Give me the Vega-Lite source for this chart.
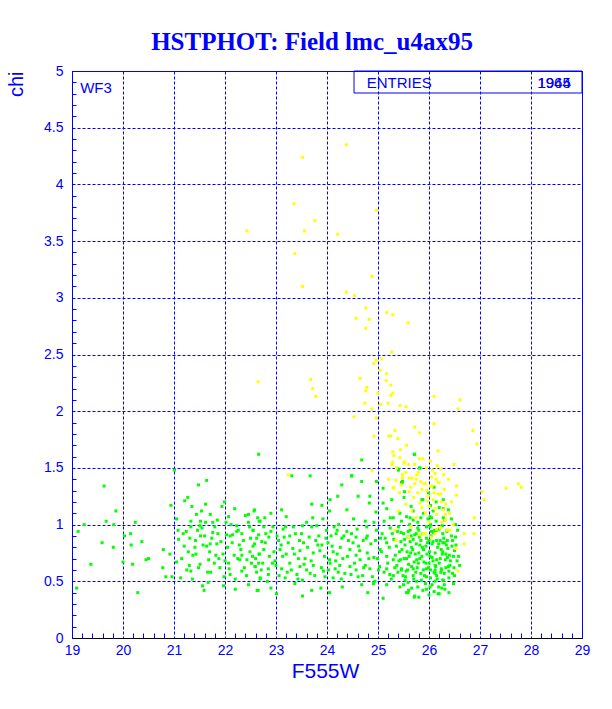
{
  "$schema": "https://vega.github.io/schema/vega-lite/v6.json",
  "width": 510,
  "height": 567,
  "autosize": {"type": "none"},
  "padding": {"left": 72, "top": 71, "right": 30, "bottom": 71},
  "background": "white",
  "title": {"text": "HSTPHOT: Field lmc_u4ax95", "font": "Liberation Serif", "fontSize": 25, "fontWeight": "bold", "color": "#0000ff", "anchor": "middle", "baseline": "alphabetic", "offset": 19, "dx": -15, "dy": 30},
  "config": {"view": {"stroke": "#0000ff", "strokeWidth": 1}},
  "datasets": {
    "box": [{"x1": 24.53, "x2": 29, "y1": 4.806, "y2": 5}],
    "txt": [
      {"x": 19.16, "y": 4.85, "t": "WF3", "a": "left"},
      {"x": 24.78, "y": 4.89, "t": "ENTRIES", "a": "left"},
      {"x": 28.78, "y": 4.89, "t": "1944", "a": "right"},
      {"x": 28.78, "y": 4.89, "t": "1965", "a": "right"}
    ],
    "pts": [
      {"m":21.01,"chi":1.48,"s":"g"},{"m":19.63,"chi":1.34,"s":"g"},{"m":21.48,"chi":1.35,"s":"g"},{"m":21.64,"chi":1.39,"s":"g"},{"m":19.86,"chi":1.12,"s":"g"},{"m":19.67,"chi":1.03,"s":"g"},{"m":19.82,"chi":1.0,"s":"g"},{"m":19.24,"chi":1.0,"s":"g"},{"m":19.12,"chi":0.94,"s":"g"},{"m":20.24,"chi":1.02,"s":"g"},{"m":20.03,"chi":0.9,"s":"g"},{"m":20.15,"chi":0.92,"s":"g"},{"m":20.37,"chi":0.85,"s":"g"},{"m":19.59,"chi":0.84,"s":"g"},{"m":19.81,"chi":0.8,"s":"g"},{"m":20.16,"chi":0.82,"s":"g"},{"m":19.37,"chi":0.65,"s":"g"},{"m":20.0,"chi":0.67,"s":"g"},{"m":20.19,"chi":0.65,"s":"g"},{"m":20.45,"chi":0.69,"s":"g"},{"m":20.5,"chi":0.7,"s":"g"},{"m":19.09,"chi":0.44,"s":"g"},{"m":20.29,"chi":0.4,"s":"g"},{"m":21.21,"chi":1.21,"s":"g"},{"m":21.27,"chi":1.24,"s":"g"},{"m":21.62,"chi":1.18,"s":"g"},{"m":20.94,"chi":1.17,"s":"g"},{"m":21.35,"chi":1.16,"s":"g"},{"m":21.44,"chi":1.09,"s":"g"},{"m":21.54,"chi":1.12,"s":"g"},{"m":21.71,"chi":1.09,"s":"g"},{"m":21.94,"chi":1.16,"s":"g"},{"m":21.99,"chi":1.2,"s":"g"},{"m":22.19,"chi":1.14,"s":"g"},{"m":22.46,"chi":1.09,"s":"g"},{"m":22.57,"chi":1.12,"s":"g"},{"m":22.07,"chi":1.07,"s":"g"},{"m":21.85,"chi":1.04,"s":"g"},{"m":21.52,"chi":1.03,"s":"g"},{"m":21.33,"chi":1.03,"s":"g"},{"m":21.62,"chi":1.02,"s":"g"},{"m":21.76,"chi":1.02,"s":"g"},{"m":22.23,"chi":0.99,"s":"g"},{"m":22.46,"chi":1.02,"s":"g"},{"m":22.67,"chi":1.03,"s":"g"},{"m":21.08,"chi":0.95,"s":"g"},{"m":21.24,"chi":0.94,"s":"g"},{"m":21.33,"chi":0.98,"s":"g"},{"m":21.51,"chi":0.99,"s":"g"},{"m":21.76,"chi":0.93,"s":"g"},{"m":21.86,"chi":0.92,"s":"g"},{"m":22.03,"chi":0.91,"s":"g"},{"m":22.1,"chi":0.9,"s":"g"},{"m":22.15,"chi":0.91,"s":"g"},{"m":22.23,"chi":0.94,"s":"g"},{"m":22.33,"chi":0.92,"s":"g"},{"m":22.55,"chi":0.95,"s":"g"},{"m":22.66,"chi":0.91,"s":"g"},{"m":21.09,"chi":0.87,"s":"g"},{"m":21.31,"chi":0.88,"s":"g"},{"m":21.52,"chi":0.9,"s":"g"},{"m":21.6,"chi":0.9,"s":"g"},{"m":21.71,"chi":0.83,"s":"g"},{"m":21.57,"chi":0.82,"s":"g"},{"m":21.64,"chi":0.81,"s":"g"},{"m":21.84,"chi":0.83,"s":"g"},{"m":21.2,"chi":0.81,"s":"g"},{"m":21.41,"chi":0.8,"s":"g"},{"m":21.43,"chi":0.74,"s":"g"},{"m":21.37,"chi":0.73,"s":"g"},{"m":21.82,"chi":0.73,"s":"g"},{"m":20.92,"chi":0.74,"s":"g"},{"m":20.79,"chi":0.78,"s":"g"},{"m":21.05,"chi":0.67,"s":"g"},{"m":21.3,"chi":0.64,"s":"g"},{"m":21.51,"chi":0.65,"s":"g"},{"m":21.68,"chi":0.69,"s":"g"},{"m":21.88,"chi":0.7,"s":"g"},{"m":22.0,"chi":0.68,"s":"g"},{"m":22.07,"chi":0.66,"s":"g"},{"m":22.18,"chi":0.73,"s":"g"},{"m":22.25,"chi":0.7,"s":"g"},{"m":22.29,"chi":0.69,"s":"g"},{"m":22.33,"chi":0.73,"s":"g"},{"m":22.43,"chi":0.69,"s":"g"},{"m":22.49,"chi":0.76,"s":"g"},{"m":22.54,"chi":0.72,"s":"g"},{"m":22.59,"chi":0.63,"s":"g"},{"m":22.66,"chi":0.66,"s":"g"},{"m":22.67,"chi":0.74,"s":"g"},{"m":20.78,"chi":0.62,"s":"g"},{"m":20.84,"chi":0.54,"s":"g"},{"m":20.96,"chi":0.54,"s":"g"},{"m":21.13,"chi":0.53,"s":"g"},{"m":21.33,"chi":0.59,"s":"g"},{"m":21.72,"chi":0.58,"s":"g"},{"m":22.1,"chi":0.56,"s":"g"},{"m":22.33,"chi":0.59,"s":"g"},{"m":22.62,"chi":0.58,"s":"g"},{"m":22.69,"chi":0.52,"s":"g"},{"m":21.98,"chi":0.54,"s":"g"},{"m":21.97,"chi":0.46,"s":"g"},{"m":21.56,"chi":0.46,"s":"g"},{"m":21.59,"chi":0.42,"s":"g"},{"m":21.67,"chi":0.49,"s":"g"},{"m":22.46,"chi":0.47,"s":"g"},{"m":22.65,"chi":0.42,"s":"g"},
      {"m":22.66,"chi":1.62,"s":"g"},{"m":24.68,"chi":1.57,"s":"g"},{"m":23.67,"chi":1.43,"s":"g"},{"m":23.31,"chi":1.43,"s":"g"},{"m":24.48,"chi":1.43,"s":"g"},{"m":25.4,"chi":1.48,"s":"g"},{"m":25.71,"chi":1.62,"s":"g"},{"m":25.46,"chi":1.37,"s":"g"},{"m":25.82,"chi":1.5,"s":"g"},{"m":24.29,"chi":1.35,"s":"g"},{"m":24.68,"chi":1.38,"s":"g"},{"m":24.97,"chi":1.38,"s":"g"},{"m":25.1,"chi":1.32,"s":"g"},{"m":24.21,"chi":1.25,"s":"g"},{"m":24.06,"chi":1.22,"s":"g"},{"m":24.61,"chi":1.25,"s":"g"},{"m":24.84,"chi":1.25,"s":"g"},{"m":25.27,"chi":1.22,"s":"g"},{"m":25.51,"chi":1.24,"s":"g"},{"m":25.86,"chi":1.22,"s":"g"},{"m":23.7,"chi":1.18,"s":"g"},{"m":23.9,"chi":1.17,"s":"g"},{"m":24.83,"chi":1.19,"s":"g"},{"m":25.1,"chi":1.19,"s":"g"},{"m":26.28,"chi":1.22,"s":"g"},{"m":22.58,"chi":1.13,"s":"g"},{"m":22.9,"chi":1.1,"s":"g"},{"m":23.11,"chi":1.13,"s":"g"},{"m":24.05,"chi":1.12,"s":"g"},{"m":24.39,"chi":1.13,"s":"g"},{"m":24.96,"chi":1.11,"s":"g"},{"m":25.17,"chi":1.14,"s":"g"},{"m":25.56,"chi":1.07,"s":"g"},{"m":25.69,"chi":1.04,"s":"g"},{"m":25.89,"chi":1.1,"s":"g"},{"m":26.05,"chi":1.06,"s":"g"},{"m":26.28,"chi":1.06,"s":"g"},{"m":22.78,"chi":1.06,"s":"g"},{"m":22.69,"chi":1.03,"s":"g"},{"m":23.2,"chi":1.07,"s":"g"},{"m":23.72,"chi":1.06,"s":"g"},{"m":23.92,"chi":1.05,"s":"g"},{"m":24.52,"chi":1.05,"s":"g"},{"m":24.75,"chi":1.03,"s":"g"},{"m":24.92,"chi":1.02,"s":"g"},{"m":25.12,"chi":1.03,"s":"g"},{"m":25.24,"chi":1.06,"s":"g"},{"m":25.3,"chi":1.06,"s":"g"},{"m":25.46,"chi":1.03,"s":"g"},{"m":22.55,"chi":0.95,"s":"g"},{"m":22.76,"chi":0.98,"s":"g"},{"m":22.94,"chi":0.98,"s":"g"},{"m":23.14,"chi":0.96,"s":"g"},{"m":23.34,"chi":0.98,"s":"g"},{"m":23.52,"chi":0.99,"s":"g"},{"m":23.7,"chi":0.98,"s":"g"},{"m":23.8,"chi":0.99,"s":"g"},{"m":23.99,"chi":0.95,"s":"g"},{"m":24.2,"chi":0.95,"s":"g"},{"m":24.39,"chi":0.94,"s":"g"},{"m":24.78,"chi":0.98,"s":"g"},{"m":24.97,"chi":0.95,"s":"g"},{"m":25.24,"chi":0.97,"s":"g"},{"m":25.38,"chi":0.94,"s":"g"},{"m":25.63,"chi":0.95,"s":"g"},{"m":25.75,"chi":0.92,"s":"g"},{"m":26.02,"chi":0.98,"s":"g"},{"m":26.05,"chi":0.94,"s":"g"},{"m":26.15,"chi":0.95,"s":"g"},{"m":26.35,"chi":0.94,"s":"g"},{"m":22.62,"chi":0.88,"s":"g"},{"m":22.72,"chi":0.85,"s":"g"},{"m":22.86,"chi":0.89,"s":"g"},{"m":23.05,"chi":0.86,"s":"g"},{"m":23.16,"chi":0.89,"s":"g"},{"m":23.27,"chi":0.9,"s":"g"},{"m":23.46,"chi":0.86,"s":"g"},{"m":23.54,"chi":0.84,"s":"g"},{"m":23.65,"chi":0.89,"s":"g"},{"m":23.78,"chi":0.86,"s":"g"},{"m":23.9,"chi":0.82,"s":"g"},{"m":24.08,"chi":0.9,"s":"g"},{"m":24.18,"chi":0.92,"s":"g"},{"m":24.29,"chi":0.88,"s":"g"},{"m":24.42,"chi":0.86,"s":"g"},{"m":24.57,"chi":0.89,"s":"g"},{"m":24.71,"chi":0.86,"s":"g"},{"m":24.79,"chi":0.9,"s":"g"},{"m":25.05,"chi":0.88,"s":"g"},{"m":25.17,"chi":0.84,"s":"g"},{"m":25.31,"chi":0.87,"s":"g"},{"m":25.45,"chi":0.85,"s":"g"},{"m":25.59,"chi":0.89,"s":"g"},{"m":25.69,"chi":0.87,"s":"g"},{"m":25.82,"chi":0.82,"s":"g"},{"m":25.95,"chi":0.88,"s":"g"},{"m":26.08,"chi":0.85,"s":"g"},{"m":26.22,"chi":0.86,"s":"g"},{"m":26.31,"chi":0.84,"s":"g"},{"m":22.55,"chi":0.81,"s":"g"},{"m":22.67,"chi":0.74,"s":"g"},{"m":22.76,"chi":0.78,"s":"g"},{"m":22.87,"chi":0.72,"s":"g"},{"m":22.96,"chi":0.76,"s":"g"},{"m":23.08,"chi":0.78,"s":"g"},{"m":23.2,"chi":0.74,"s":"g"},{"m":23.33,"chi":0.79,"s":"g"},{"m":23.47,"chi":0.77,"s":"g"},{"m":23.57,"chi":0.7,"s":"g"},{"m":23.73,"chi":0.75,"s":"g"},{"m":23.86,"chi":0.77,"s":"g"},{"m":24.05,"chi":0.69,"s":"g"},{"m":24.12,"chi":0.76,"s":"g"},{"m":24.2,"chi":0.74,"s":"g"},{"m":24.31,"chi":0.7,"s":"g"},{"m":24.45,"chi":0.78,"s":"g"},{"m":24.57,"chi":0.73,"s":"g"},{"m":24.65,"chi":0.69,"s":"g"},{"m":24.79,"chi":0.75,"s":"g"},{"m":24.92,"chi":0.71,"s":"g"},{"m":25.04,"chi":0.78,"s":"g"},{"m":25.17,"chi":0.72,"s":"g"},{"m":25.3,"chi":0.69,"s":"g"},{"m":25.42,"chi":0.76,"s":"g"},{"m":25.51,"chi":0.7,"s":"g"},{"m":25.64,"chi":0.75,"s":"g"},{"m":25.76,"chi":0.69,"s":"g"},{"m":25.89,"chi":0.78,"s":"g"},{"m":26.02,"chi":0.72,"s":"g"},{"m":26.15,"chi":0.69,"s":"g"},{"m":26.27,"chi":0.76,"s":"g"},{"m":26.36,"chi":0.71,"s":"g"},{"m":22.59,"chi":0.63,"s":"g"},{"m":22.74,"chi":0.66,"s":"g"},{"m":22.85,"chi":0.61,"s":"g"},{"m":23.0,"chi":0.64,"s":"g"},{"m":23.11,"chi":0.61,"s":"g"},{"m":23.27,"chi":0.66,"s":"g"},{"m":23.47,"chi":0.63,"s":"g"},{"m":23.6,"chi":0.6,"s":"g"},{"m":23.73,"chi":0.64,"s":"g"},{"m":23.89,"chi":0.62,"s":"g"},{"m":24.06,"chi":0.66,"s":"g"},{"m":24.16,"chi":0.61,"s":"g"},{"m":24.25,"chi":0.64,"s":"g"},{"m":24.45,"chi":0.63,"s":"g"},{"m":24.57,"chi":0.6,"s":"g"},{"m":24.75,"chi":0.64,"s":"g"},{"m":24.84,"chi":0.61,"s":"g"},{"m":25.03,"chi":0.63,"s":"g"},{"m":25.17,"chi":0.61,"s":"g"},{"m":25.37,"chi":0.64,"s":"g"},{"m":25.46,"chi":0.6,"s":"g"},{"m":25.66,"chi":0.63,"s":"g"},{"m":25.79,"chi":0.66,"s":"g"},{"m":25.95,"chi":0.61,"s":"g"},{"m":26.12,"chi":0.64,"s":"g"},{"m":26.25,"chi":0.6,"s":"g"},{"m":26.38,"chi":0.63,"s":"g"},{"m":22.69,"chi":0.53,"s":"g"},{"m":22.85,"chi":0.56,"s":"g"},{"m":23.18,"chi":0.53,"s":"g"},{"m":23.41,"chi":0.56,"s":"g"},{"m":23.52,"chi":0.51,"s":"g"},{"m":23.67,"chi":0.57,"s":"g"},{"m":23.96,"chi":0.54,"s":"g"},{"m":24.12,"chi":0.53,"s":"g"},{"m":24.22,"chi":0.58,"s":"g"},{"m":24.61,"chi":0.54,"s":"g"},{"m":24.68,"chi":0.47,"s":"g"},{"m":24.94,"chi":0.5,"s":"g"},{"m":25.17,"chi":0.47,"s":"g"},{"m":25.3,"chi":0.55,"s":"g"},{"m":25.53,"chi":0.51,"s":"g"},{"m":25.76,"chi":0.5,"s":"g"},{"m":25.95,"chi":0.54,"s":"g"},{"m":26.12,"chi":0.57,"s":"g"},{"m":26.28,"chi":0.51,"s":"g"},{"m":22.63,"chi":0.42,"s":"g"},{"m":23.01,"chi":0.39,"s":"g"},{"m":23.37,"chi":0.48,"s":"g"},{"m":23.52,"chi":0.37,"s":"g"},{"m":23.88,"chi":0.44,"s":"g"},{"m":24.05,"chi":0.4,"s":"g"},{"m":24.91,"chi":0.48,"s":"g"},{"m":25.1,"chi":0.35,"s":"g"},{"m":25.43,"chi":0.45,"s":"g"},{"m":25.59,"chi":0.4,"s":"g"},{"m":25.71,"chi":0.36,"s":"g"},{"m":26.02,"chi":0.45,"s":"g"},{"m":26.18,"chi":0.39,"s":"g"},
      {"m":25.72,"chi":1.62,"s":"g"},{"m":25.82,"chi":1.5,"s":"g"},{"m":25.48,"chi":1.38,"s":"g"},{"m":25.99,"chi":1.28,"s":"g"},{"m":25.52,"chi":1.29,"s":"g"},{"m":25.88,"chi":1.22,"s":"g"},{"m":26.14,"chi":1.2,"s":"g"},{"m":25.65,"chi":1.16,"s":"g"},{"m":26.03,"chi":1.17,"s":"g"},{"m":26.28,"chi":1.14,"s":"g"},{"m":25.43,"chi":1.1,"s":"g"},{"m":25.69,"chi":1.12,"s":"g"},{"m":25.84,"chi":1.06,"s":"g"},{"m":26.02,"chi":1.07,"s":"g"},{"m":26.14,"chi":1.03,"s":"g"},{"m":26.31,"chi":1.04,"s":"g"},{"m":25.63,"chi":1.06,"s":"g"},{"m":25.5,"chi":0.92,"s":"g"},{"m":25.59,"chi":0.94,"s":"g"},{"m":25.72,"chi":0.91,"s":"g"},{"m":25.81,"chi":0.89,"s":"g"},{"m":25.88,"chi":0.92,"s":"g"},{"m":25.95,"chi":0.98,"s":"g"},{"m":26.03,"chi":1.0,"s":"g"},{"m":26.11,"chi":0.95,"s":"g"},{"m":26.2,"chi":0.96,"s":"g"},{"m":26.27,"chi":0.92,"s":"g"},{"m":26.35,"chi":0.95,"s":"g"},{"m":26.52,"chi":0.89,"s":"g"},{"m":25.52,"chi":0.87,"s":"g"},{"m":25.63,"chi":0.85,"s":"g"},{"m":25.75,"chi":0.83,"s":"g"},{"m":25.84,"chi":0.86,"s":"g"},{"m":25.94,"chi":0.81,"s":"g"},{"m":26.06,"chi":0.83,"s":"g"},{"m":26.15,"chi":0.86,"s":"g"},{"m":26.27,"chi":0.84,"s":"g"},{"m":26.36,"chi":0.86,"s":"g"},{"m":26.45,"chi":0.81,"s":"g"},{"m":25.47,"chi":0.78,"s":"g"},{"m":25.57,"chi":0.76,"s":"g"},{"m":25.68,"chi":0.78,"s":"g"},{"m":25.8,"chi":0.75,"s":"g"},{"m":25.89,"chi":0.78,"s":"g"},{"m":26.01,"chi":0.76,"s":"g"},{"m":26.12,"chi":0.75,"s":"g"},{"m":26.24,"chi":0.78,"s":"g"},{"m":26.33,"chi":0.74,"s":"g"},{"m":26.48,"chi":0.72,"s":"g"},{"m":25.44,"chi":0.69,"s":"g"},{"m":25.56,"chi":0.7,"s":"g"},{"m":25.71,"chi":0.67,"s":"g"},{"m":25.82,"chi":0.7,"s":"g"},{"m":25.94,"chi":0.66,"s":"g"},{"m":26.08,"chi":0.68,"s":"g"},{"m":26.2,"chi":0.66,"s":"g"},{"m":26.32,"chi":0.69,"s":"g"},{"m":26.41,"chi":0.64,"s":"g"},{"m":26.49,"chi":0.62,"s":"g"},{"m":25.46,"chi":0.61,"s":"g"},{"m":25.55,"chi":0.59,"s":"g"},{"m":25.69,"chi":0.61,"s":"g"},{"m":25.89,"chi":0.6,"s":"g"},{"m":25.99,"chi":0.62,"s":"g"},{"m":26.12,"chi":0.6,"s":"g"},{"m":26.24,"chi":0.61,"s":"g"},{"m":26.39,"chi":0.59,"s":"g"},{"m":25.54,"chi":0.54,"s":"g"},{"m":25.69,"chi":0.55,"s":"g"},{"m":25.85,"chi":0.51,"s":"g"},{"m":26.03,"chi":0.53,"s":"g"},{"m":26.15,"chi":0.55,"s":"g"},{"m":26.27,"chi":0.51,"s":"g"},{"m":26.39,"chi":0.53,"s":"g"},{"m":25.59,"chi":0.49,"s":"g"},{"m":25.78,"chi":0.45,"s":"g"},{"m":26.06,"chi":0.47,"s":"g"},{"m":26.19,"chi":0.45,"s":"g"},{"m":26.48,"chi":0.48,"s":"g"},{"m":25.56,"chi":0.4,"s":"g"},{"m":25.72,"chi":0.37,"s":"g"},{"m":25.8,"chi":0.36,"s":"g"},{"m":26.2,"chi":0.39,"s":"g"},{"m":26.39,"chi":0.4,"s":"g"},{"m":26.31,"chi":0.43,"s":"g"},{"m":25.4,"chi":1.49,"s":"g"},{"m":25.47,"chi":1.37,"s":"g"},{"m":26.1,"chi":1.33,"s":"g"},{"m":24.49,"chi":1.43,"s":"g"},
      {"m":22.6,"chi":0.7,"s":"g"},{"m":22.8,"chi":0.92,"s":"g"},{"m":22.98,"chi":0.68,"s":"g"},{"m":23.1,"chi":0.82,"s":"g"},{"m":23.22,"chi":0.58,"s":"g"},{"m":23.38,"chi":0.92,"s":"g"},{"m":23.44,"chi":0.7,"s":"g"},{"m":23.62,"chi":0.8,"s":"g"},{"m":23.84,"chi":0.9,"s":"g"},{"m":23.95,"chi":0.72,"s":"g"},{"m":24.02,"chi":0.84,"s":"g"},{"m":24.14,"chi":0.98,"s":"g"},{"m":24.26,"chi":0.8,"s":"g"},{"m":24.35,"chi":0.57,"s":"g"},{"m":24.48,"chi":0.92,"s":"g"},{"m":24.54,"chi":0.66,"s":"g"},{"m":24.62,"chi":0.81,"s":"g"},{"m":24.7,"chi":0.55,"s":"g"},{"m":24.86,"chi":0.83,"s":"g"},{"m":24.99,"chi":0.7,"s":"g"},{"m":25.08,"chi":0.92,"s":"g"},{"m":25.12,"chi":0.58,"s":"g"},{"m":25.22,"chi":0.8,"s":"g"},{"m":25.26,"chi":0.52,"s":"g"},{"m":25.34,"chi":0.73,"s":"g"},{"m":25.4,"chi":0.98,"s":"g"},{"m":25.39,"chi":0.58,"s":"g"},{"m":25.6,"chi":0.65,"s":"g"},{"m":25.66,"chi":0.8,"s":"g"},{"m":25.74,"chi":0.58,"s":"g"},{"m":25.78,"chi":0.97,"s":"g"},{"m":25.86,"chi":0.72,"s":"g"},{"m":25.91,"chi":0.55,"s":"g"},{"m":25.97,"chi":0.84,"s":"g"},{"m":26.0,"chi":0.66,"s":"g"},{"m":26.04,"chi":0.9,"s":"g"},{"m":26.1,"chi":0.58,"s":"g"},{"m":26.17,"chi":0.8,"s":"g"},{"m":26.22,"chi":0.7,"s":"g"},{"m":26.26,"chi":0.99,"s":"g"},{"m":26.3,"chi":0.57,"s":"g"},{"m":26.34,"chi":0.82,"s":"g"},{"m":26.4,"chi":0.73,"s":"g"},{"m":26.44,"chi":0.9,"s":"g"},{"m":26.46,"chi":0.57,"s":"g"},{"m":26.5,"chi":0.77,"s":"g"},{"m":26.55,"chi":0.68,"s":"g"},{"m":26.52,"chi":1.0,"s":"g"},{"m":26.44,"chi":1.05,"s":"g"},{"m":26.38,"chi":1.13,"s":"g"},{"m":26.2,"chi":1.15,"s":"g"},{"m":26.08,"chi":1.12,"s":"g"},{"m":25.98,"chi":1.05,"s":"g"},{"m":25.62,"chi":1.0,"s":"g"},{"m":25.78,"chi":1.02,"s":"g"},{"m":26.12,"chi":0.5,"s":"g"},{"m":25.88,"chi":0.42,"s":"g"},{"m":26.0,"chi":0.38,"s":"g"},{"m":25.66,"chi":0.44,"s":"g"},{"m":26.3,"chi":0.47,"s":"g"},{"m":25.5,"chi":0.47,"s":"g"},{"m":21.15,"chi":0.7,"s":"g"},{"m":21.25,"chi":0.6,"s":"g"},{"m":21.46,"chi":0.95,"s":"g"},{"m":21.7,"chi":0.76,"s":"g"},{"m":21.9,"chi":0.62,"s":"g"},{"m":22.05,"chi":0.8,"s":"g"},{"m":22.12,"chi":1.0,"s":"g"},{"m":22.28,"chi":0.82,"s":"g"},{"m":22.38,"chi":0.62,"s":"g"},{"m":22.5,"chi":0.88,"s":"g"},{"m":21.8,"chi":0.98,"s":"g"},{"m":22.4,"chi":1.08,"s":"g"},
      {"m":21.05,"chi":1.05,"s":"g"},{"m":21.18,"chi":0.92,"s":"g"},{"m":21.28,"chi":0.76,"s":"g"},{"m":21.36,"chi":0.52,"s":"g"},{"m":21.42,"chi":0.86,"s":"g"},{"m":21.48,"chi":0.62,"s":"g"},{"m":21.55,"chi":0.97,"s":"g"},{"m":21.66,"chi":0.58,"s":"g"},{"m":21.74,"chi":0.88,"s":"g"},{"m":21.79,"chi":0.66,"s":"g"},{"m":21.92,"chi":0.85,"s":"g"},{"m":21.96,"chi":0.74,"s":"g"},{"m":22.02,"chi":1.02,"s":"g"},{"m":22.08,"chi":0.61,"s":"g"},{"m":22.14,"chi":0.84,"s":"g"},{"m":22.2,"chi":0.52,"s":"g"},{"m":22.26,"chi":0.95,"s":"g"},{"m":22.31,"chi":0.78,"s":"g"},{"m":22.36,"chi":0.86,"s":"g"},{"m":22.42,"chi":0.55,"s":"g"},{"m":22.48,"chi":0.98,"s":"g"},{"m":22.52,"chi":0.66,"s":"g"},{"m":22.58,"chi":0.83,"s":"g"},{"m":22.64,"chi":1.06,"s":"g"},{"m":22.71,"chi":0.6,"s":"g"},{"m":22.79,"chi":0.84,"s":"g"},{"m":22.83,"chi":0.5,"s":"g"},{"m":22.9,"chi":0.94,"s":"g"},{"m":22.93,"chi":0.66,"s":"g"},{"m":23.02,"chi":0.9,"s":"g"},{"m":23.06,"chi":0.55,"s":"g"},{"m":23.13,"chi":0.72,"s":"g"},{"m":23.19,"chi":0.98,"s":"g"},{"m":23.24,"chi":0.84,"s":"g"},{"m":23.3,"chi":0.6,"s":"g"},{"m":23.36,"chi":0.74,"s":"g"},{"m":23.43,"chi":0.52,"s":"g"},{"m":23.5,"chi":0.92,"s":"g"},{"m":23.55,"chi":0.65,"s":"g"},{"m":23.6,"chi":1.02,"s":"g"},{"m":23.69,"chi":0.68,"s":"g"},{"m":23.76,"chi":0.55,"s":"g"},{"m":23.82,"chi":0.82,"s":"g"},{"m":23.93,"chi":0.59,"s":"g"},{"m":23.98,"chi":0.88,"s":"g"},{"m":24.03,"chi":0.6,"s":"g"},{"m":24.1,"chi":0.81,"s":"g"},{"m":24.17,"chi":0.68,"s":"g"},{"m":24.23,"chi":1.0,"s":"g"},{"m":24.28,"chi":0.52,"s":"g"},{"m":24.33,"chi":0.9,"s":"g"},{"m":24.4,"chi":0.72,"s":"g"},{"m":24.47,"chi":0.56,"s":"g"},{"m":24.51,"chi":0.84,"s":"g"},{"m":24.59,"chi":0.96,"s":"g"},{"m":24.64,"chi":0.77,"s":"g"},{"m":24.72,"chi":0.62,"s":"g"},{"m":24.77,"chi":0.88,"s":"g"},{"m":24.82,"chi":0.7,"s":"g"},{"m":24.89,"chi":0.54,"s":"g"},{"m":24.95,"chi":0.86,"s":"g"},{"m":25.01,"chi":0.6,"s":"g"},{"m":25.07,"chi":0.76,"s":"g"},{"m":25.14,"chi":0.88,"s":"g"},{"m":25.19,"chi":0.66,"s":"g"},{"m":25.23,"chi":0.56,"s":"g"},{"m":25.28,"chi":0.92,"s":"g"},{"m":25.33,"chi":0.62,"s":"g"},{"m":25.36,"chi":0.81,"s":"g"},{"m":25.41,"chi":0.68,"s":"g"},{"m":25.45,"chi":0.93,"s":"g"},{"m":25.49,"chi":0.55,"s":"g"},{"m":25.53,"chi":0.82,"s":"g"},{"m":25.58,"chi":0.6,"s":"g"},{"m":25.61,"chi":0.72,"s":"g"},{"m":25.65,"chi":0.9,"s":"g"},{"m":25.7,"chi":0.52,"s":"g"},{"m":25.73,"chi":0.74,"s":"g"},{"m":25.77,"chi":0.62,"s":"g"},{"m":25.8,"chi":0.95,"s":"g"},{"m":25.84,"chi":0.57,"s":"g"},{"m":25.87,"chi":0.8,"s":"g"},{"m":25.9,"chi":0.67,"s":"g"},{"m":25.93,"chi":0.48,"s":"g"},{"m":25.96,"chi":0.74,"s":"g"},{"m":26.0,"chi":0.86,"s":"g"},{"m":26.03,"chi":0.6,"s":"g"},{"m":26.06,"chi":0.71,"s":"g"},{"m":26.09,"chi":0.93,"s":"g"},{"m":26.13,"chi":0.63,"s":"g"},{"m":26.16,"chi":0.52,"s":"g"},{"m":26.19,"chi":0.83,"s":"g"},{"m":26.23,"chi":0.58,"s":"g"},{"m":26.26,"chi":0.74,"s":"g"},{"m":26.29,"chi":0.88,"s":"g"},{"m":26.33,"chi":0.62,"s":"g"},{"m":26.37,"chi":0.79,"s":"g"},{"m":26.42,"chi":0.68,"s":"g"},{"m":26.46,"chi":0.86,"s":"g"},{"m":26.5,"chi":0.55,"s":"g"},{"m":26.53,"chi":0.82,"s":"g"},{"m":26.58,"chi":0.72,"s":"g"},{"m":26.56,"chi":0.95,"s":"g"},{"m":26.6,"chi":0.64,"s":"g"},{"m":25.95,"chi":0.43,"s":"g"},{"m":26.1,"chi":0.41,"s":"g"},{"m":26.25,"chi":0.44,"s":"g"},{"m":25.6,"chi":0.42,"s":"g"},{"m":24.8,"chi":0.4,"s":"g"},{"m":24.3,"chi":0.45,"s":"g"},{"m":23.7,"chi":0.42,"s":"g"},{"m":22.9,"chi":0.44,"s":"g"},{"m":22.2,"chi":0.43,"s":"g"},
      {"m":24.38,"chi":4.35,"s":"y"},{"m":23.52,"chi":4.24,"s":"y"},{"m":23.35,"chi":3.83,"s":"y"},{"m":24.97,"chi":3.77,"s":"y"},{"m":23.76,"chi":3.68,"s":"y"},{"m":22.43,"chi":3.59,"s":"y"},{"m":23.56,"chi":3.59,"s":"y"},{"m":24.21,"chi":3.56,"s":"y"},{"m":23.37,"chi":3.39,"s":"y"},{"m":24.88,"chi":3.19,"s":"y"},{"m":23.52,"chi":3.1,"s":"y"},{"m":24.38,"chi":3.05,"s":"y"},{"m":24.54,"chi":3.02,"s":"y"},{"m":24.76,"chi":2.91,"s":"y"},{"m":25.17,"chi":2.87,"s":"y"},{"m":25.29,"chi":2.85,"s":"y"},{"m":24.57,"chi":2.82,"s":"y"},{"m":24.83,"chi":2.81,"s":"y"},{"m":25.59,"chi":2.78,"s":"y"},{"m":24.76,"chi":2.73,"s":"y"},{"m":25.27,"chi":2.52,"s":"y"},{"m":25.07,"chi":2.46,"s":"y"},{"m":24.96,"chi":2.45,"s":"y"},{"m":24.92,"chi":2.42,"s":"y"},{"m":25.04,"chi":2.36,"s":"y"},{"m":25.17,"chi":2.33,"s":"y"},{"m":24.65,"chi":2.29,"s":"y"},{"m":25.16,"chi":2.27,"s":"y"},{"m":24.78,"chi":2.21,"s":"y"},{"m":25.25,"chi":2.23,"s":"y"},{"m":24.76,"chi":2.18,"s":"y"},{"m":25.29,"chi":2.16,"s":"y"},{"m":25.25,"chi":2.14,"s":"y"},{"m":26.1,"chi":2.13,"s":"y"},{"m":25.0,"chi":2.16,"s":"y"},{"m":26.61,"chi":2.1,"s":"y"},{"m":24.74,"chi":2.07,"s":"y"},{"m":25.2,"chi":2.07,"s":"y"},{"m":25.05,"chi":2.06,"s":"y"},{"m":25.43,"chi":2.05,"s":"y"},{"m":25.55,"chi":2.04,"s":"y"},{"m":24.88,"chi":2.02,"s":"y"},{"m":26.57,"chi":2.02,"s":"y"},{"m":24.53,"chi":1.95,"s":"y"},{"m":24.97,"chi":1.94,"s":"y"},{"m":26.1,"chi":1.89,"s":"y"},{"m":25.72,"chi":1.86,"s":"y"},{"m":25.33,"chi":1.83,"s":"y"},{"m":26.86,"chi":1.83,"s":"y"},{"m":25.81,"chi":1.81,"s":"y"},{"m":24.92,"chi":1.78,"s":"y"},{"m":25.21,"chi":1.78,"s":"y"},{"m":25.25,"chi":1.78,"s":"y"},{"m":25.39,"chi":1.76,"s":"y"},{"m":26.94,"chi":1.71,"s":"y"},{"m":25.56,"chi":1.7,"s":"y"},{"m":25.44,"chi":1.66,"s":"y"},{"m":26.18,"chi":1.65,"s":"y"},{"m":25.29,"chi":1.64,"s":"y"},{"m":25.31,"chi":1.61,"s":"y"},{"m":25.43,"chi":1.59,"s":"y"},{"m":25.81,"chi":1.58,"s":"y"},{"m":25.88,"chi":1.58,"s":"y"},{"m":25.29,"chi":1.55,"s":"y"},{"m":25.52,"chi":1.55,"s":"y"},{"m":25.27,"chi":1.53,"s":"y"},{"m":25.6,"chi":1.53,"s":"y"},{"m":25.72,"chi":1.53,"s":"y"},{"m":26.03,"chi":1.56,"s":"y"},{"m":26.49,"chi":1.53,"s":"y"},{"m":24.88,"chi":1.48,"s":"y"},{"m":26.23,"chi":1.49,"s":"y"},{"m":26.12,"chi":1.45,"s":"y"},{"m":25.76,"chi":1.44,"s":"y"},{"m":26.29,"chi":1.44,"s":"y"},{"m":25.48,"chi":1.44,"s":"y"},{"m":25.61,"chi":1.41,"s":"y"},{"m":25.75,"chi":1.4,"s":"y"},{"m":25.21,"chi":1.4,"s":"y"},{"m":25.35,"chi":1.39,"s":"y"},{"m":26.14,"chi":1.4,"s":"y"},{"m":26.18,"chi":1.37,"s":"y"},{"m":25.72,"chi":1.36,"s":"y"},{"m":25.9,"chi":1.36,"s":"y"},{"m":26.03,"chi":1.34,"s":"y"},{"m":25.31,"chi":1.33,"s":"y"},{"m":27.75,"chi":1.36,"s":"y"},{"m":27.51,"chi":1.32,"s":"y"},{"m":26.54,"chi":1.34,"s":"y"},{"m":25.86,"chi":1.31,"s":"y"},{"m":25.61,"chi":1.29,"s":"y"},{"m":26.1,"chi":1.28,"s":"y"},{"m":26.18,"chi":1.27,"s":"y"},{"m":26.23,"chi":1.27,"s":"y"},{"m":26.54,"chi":1.26,"s":"y"},{"m":27.04,"chi":1.29,"s":"y"},{"m":25.98,"chi":1.25,"s":"y"},{"m":27.08,"chi":1.22,"s":"y"},{"m":23.24,"chi":1.44,"s":"y"},{"m":25.3,"chi":1.32,"s":"y"},{"m":25.82,"chi":1.19,"s":"y"},{"m":26.12,"chi":1.14,"s":"y"},{"m":25.66,"chi":1.12,"s":"y"},{"m":25.89,"chi":0.92,"s":"y"},{"m":26.15,"chi":0.96,"s":"y"},{"m":26.35,"chi":0.95,"s":"y"},{"m":25.33,"chi":0.95,"s":"y"},{"m":25.51,"chi":1.54,"s":"y"},{"m":26.07,"chi":1.48,"s":"y"},{"m":25.48,"chi":1.41,"s":"y"},{"m":25.67,"chi":1.41,"s":"y"},{"m":26.2,"chi":1.37,"s":"y"},{"m":25.93,"chi":1.36,"s":"y"},{"m":26.06,"chi":1.34,"s":"y"},{"m":25.42,"chi":1.28,"s":"y"},{"m":25.97,"chi":1.21,"s":"y"},{"m":26.33,"chi":1.18,"s":"y"},{"m":26.28,"chi":1.13,"s":"y"},{"m":26.15,"chi":1.09,"s":"y"},{"m":26.32,"chi":1.09,"s":"y"},{"m":25.93,"chi":1.1,"s":"y"},{"m":26.89,"chi":1.06,"s":"y"},{"m":26.32,"chi":1.04,"s":"y"},{"m":26.69,"chi":0.92,"s":"y"},{"m":26.88,"chi":0.92,"s":"y"},{"m":26.69,"chi":0.83,"s":"y"},{"m":26.53,"chi":0.79,"s":"y"},{"m":26.57,"chi":0.59,"s":"y"},{"m":26.04,"chi":0.89,"s":"y"},{"m":25.82,"chi":0.91,"s":"y"},{"m":25.93,"chi":0.92,"s":"y"},{"m":26.22,"chi":0.97,"s":"y"},{"m":26.41,"chi":0.95,"s":"y"},{"m":25.35,"chi":0.86,"s":"y"},{"m":25.6,"chi":0.89,"s":"y"},{"m":22.65,"chi":2.26,"s":"y"},{"m":23.68,"chi":2.28,"s":"y"},{"m":23.72,"chi":2.2,"s":"y"},{"m":23.78,"chi":2.13,"s":"y"},{"m":27.81,"chi":1.33,"s":"y"},
      {"m":25.36,"chi":1.5,"s":"y"},{"m":25.45,"chi":1.35,"s":"y"},{"m":25.55,"chi":1.46,"s":"y"},{"m":25.64,"chi":1.33,"s":"y"},{"m":25.7,"chi":1.24,"s":"y"},{"m":25.79,"chi":1.46,"s":"y"},{"m":25.84,"chi":1.38,"s":"y"},{"m":25.95,"chi":1.5,"s":"y"},{"m":26.0,"chi":1.16,"s":"y"},{"m":26.05,"chi":1.42,"s":"y"},{"m":26.08,"chi":1.22,"s":"y"},{"m":26.16,"chi":1.52,"s":"y"},{"m":26.24,"chi":1.2,"s":"y"},{"m":26.3,"chi":1.31,"s":"y"},{"m":26.38,"chi":1.4,"s":"y"},{"m":26.44,"chi":1.2,"s":"y"},{"m":26.47,"chi":1.0,"s":"y"},{"m":26.4,"chi":1.1,"s":"y"},{"m":25.74,"chi":1.06,"s":"y"},{"m":25.86,"chi":1.15,"s":"y"},{"m":26.0,"chi":1.02,"s":"y"},{"m":25.55,"chi":1.18,"s":"y"},{"m":25.4,"chi":1.12,"s":"y"},{"m":25.65,"chi":0.98,"s":"y"},{"m":26.12,"chi":0.92,"s":"y"},{"m":26.25,"chi":1.02,"s":"y"},{"m":25.96,"chi":1.3,"s":"y"},{"m":25.78,"chi":1.28,"s":"y"}
    ]
  },
  "layer": [
    {
      "data": {"name": "pts"},
      "mark": {"type": "square", "size": 9, "opacity": 1, "strokeWidth": 0},
      "encoding": {
        "x": {"field": "m", "type": "quantitative", "scale": {"domain": [19, 29], "nice": false, "zero": false},
          "axis": {"title": "F555W", "values": [19,20,21,22,23,24,25,26,27,28,29], "grid": true, "gridColor": "#0000ff", "gridDash": [3, 2], "gridWidth": 1, "tickSize": 0, "labelPadding": 5, "labelFont": "Liberation Sans", "labelFontSize": 14, "labelColor": "#0000ff", "domainColor": "#000000", "titleFont": "Liberation Sans", "titleFontSize": 21, "titleFontWeight": "normal", "titleColor": "#0000ff", "titlePadding": 3, "titleX": 253, "format": "d", "labelFlush": false}},
        "y": {"field": "chi", "type": "quantitative", "scale": {"domain": [0, 5], "nice": false},
          "axis": {"title": "chi", "values": [0,0.5,1,1.5,2,2.5,3,3.5,4,4.5,5], "grid": true, "gridColor": "#0000ff", "gridDash": [3, 2], "gridWidth": 1, "tickSize": 0, "labelPadding": 9, "labelFont": "Liberation Sans", "labelFontSize": 14, "labelColor": "#0000ff", "domainColor": "#0000ff", "titleFont": "Liberation Sans", "titleFontSize": 20, "titleFontWeight": "normal", "titleColor": "#0000ff", "titleAnchor": "end", "titleAngle": -90, "titleX": -46, "titleY": 0, "titleAlign": "right", "titleBaseline": "bottom", "format": "~g", "labelFlush": false}},
        "color": {"field": "s", "type": "nominal", "scale": {"domain": ["g", "y"], "range": ["#00ff00", "#ffff00"]}, "legend": null}
      }
    },
    {
      "data": {"name": "box"},
      "mark": {"type": "rect", "fill": null, "fillOpacity": 0, "stroke": "#0000ff", "strokeWidth": 1},
      "encoding": {
        "x": {"field": "x1", "type": "quantitative", "axis": {"orient": "top", "offset": -567, "values": [19.2,19.4,19.6,19.8,20.2,20.4,20.6,20.8,21.2,21.4,21.6,21.8,22.2,22.4,22.6,22.8,23.2,23.4,23.6,23.8,24.2,24.4,24.6,24.8,25.2,25.4,25.6,25.8,26.2,26.4,26.6,26.8,27.2,27.4,27.6,27.8,28.2,28.4,28.6,28.8], "tickSize": 5, "tickColor": "#0000ff", "tickWidth": 1, "labels": false, "domain": false, "grid": false, "title": null}},
        "x2": {"field": "x2"},
        "y": {"field": "y1", "type": "quantitative", "axis": {"orient": "right", "offset": -510, "values": [0.1,0.2,0.3,0.4,0.6,0.7,0.8,0.9,1.1,1.2,1.3,1.4,1.6,1.7,1.8,1.9,2.1,2.2,2.3,2.4,2.6,2.7,2.8,2.9,3.1,3.2,3.3,3.4,3.6,3.7,3.8,3.9,4.1,4.2,4.3,4.4,4.6,4.7,4.8,4.9], "tickSize": 4, "tickColor": "#0000ff", "tickWidth": 1, "labels": false, "domain": false, "grid": false, "title": null}},
        "y2": {"field": "y2"}
      }
    },
    {
      "data": {"name": "txt"},
      "transform": [{"filter": "datum.a == 'left'"}],
      "mark": {"type": "text", "font": "Liberation Sans", "fontSize": 15, "color": "#0000ff", "baseline": "middle", "align": "left"},
      "encoding": {
        "x": {"field": "x", "type": "quantitative", "axis": null},
        "y": {"field": "y", "type": "quantitative", "axis": null},
        "text": {"field": "t"}
      }
    },
    {
      "data": {"name": "txt"},
      "transform": [{"filter": "datum.a == 'right'"}],
      "mark": {"type": "text", "font": "Liberation Sans", "fontSize": 15, "color": "#0000ff", "baseline": "middle", "align": "right"},
      "encoding": {
        "x": {"field": "x", "type": "quantitative", "axis": null},
        "y": {"field": "y", "type": "quantitative", "axis": null},
        "text": {"field": "t"}
      }
    }
  ],
  "resolve": {"axis": {"x": "independent", "y": "independent"}}
}
